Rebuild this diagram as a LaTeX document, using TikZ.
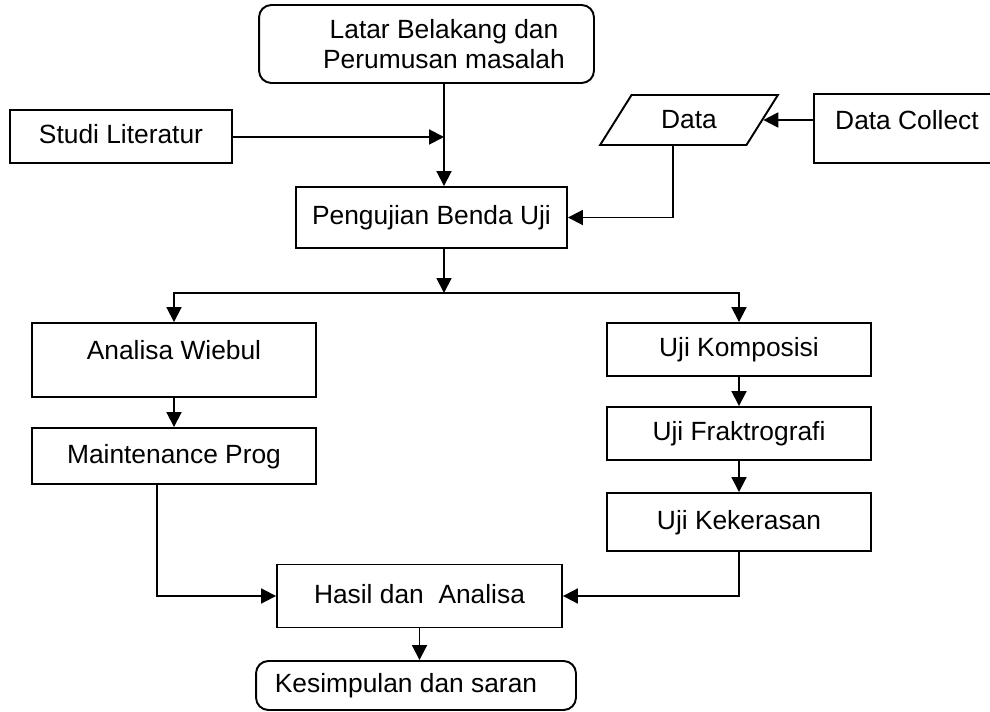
\documentclass[tikz,border=0pt]{standalone}
\usepackage{fontspec}
\setmainfont{Liberation Sans}
\usepackage{tikz}
\usetikzlibrary{arrows.meta, shapes.geometric, positioning}

\begin{document}
\begin{tikzpicture}[x=0.02cm, y=-0.02cm, line width=1.1pt,
    >={Triangle[length=8.5pt, width=8.5pt]},
    box/.style={draw, rectangle, inner sep=2pt, text height=11pt, text depth=3pt,
        font=\fontsize{15}{17}\selectfont},
    roundbox/.style={box, rounded corners=7pt},
    tallbox/.style={box, minimum height=0pt, inner ysep=9.5pt},
    databox/.style={draw, trapezium, trapezium left angle=56, trapezium right angle=124,
        trapezium stretches=true, inner sep=2pt, font=\fontsize{15}{17}\selectfont}]
    \useasboundingbox (0,0) rectangle (990,712);

    % Kotak-kotak
    \node[roundbox, minimum width=6.7cm, minimum height=1.56cm, align=center,
        text height=, text depth=] (latar) at (426.5,44)
        {\hspace*{0.7cm}Latar Belakang dan\\\hspace*{0.7cm}Perumusan masalah};
    \node[box, minimum width=4.44cm, minimum height=1.06cm] (studi) at (121,136.5) {Studi Literatur};
    \node[box, minimum width=5.42cm, minimum height=1.22cm] (uji) at (431.5,217.5) {Pengujian Benda Uji};
    \node[databox, minimum width=3.56cm, minimum height=1cm] (data) at (689,120) {Data};
    \node[tallbox, minimum width=3.72cm, text depth=9.3pt] (collect) at (907,128.5) {Data Collect};

    \node[tallbox, minimum width=5.68cm, text depth=12.1pt] (wiebul) at (174,360) {Analisa Wiebul};
    \node[box, minimum width=5.68cm, minimum height=1.12cm] (maint) at (174,456) {Maintenance Prog};

    \node[box, minimum width=5.28cm, minimum height=1.06cm] (kompo) at (739,349.5) {Uji Komposisi};
    \node[box, minimum width=5.28cm, minimum height=1.06cm] (frakto) at (739,433.5) {Uji Fraktrografi};
    \node[box, minimum width=5.28cm, minimum height=1.16cm] (keras) at (739,522) {Uji Kekerasan};

    \node[box, minimum width=5.7cm, minimum height=1.26cm] (hasil) at (419.5,596) {Hasil dan \ Analisa};
    \node[roundbox, minimum width=6.4cm, minimum height=0.98cm] (simpul) at (416,685.5)
        {Kesimpulan dan saran\hspace*{0.4cm}};

    % Titik bantu
    \coordinate (temu) at (444,137);
    \coordinate (cabang) at (444,293);

    % Panah
    \draw[->] (latar.south -| temu) -- (uji.north -| temu);
    \draw[->] (studi.east |- temu) -- (temu);
    \draw[->] (collect.west |- data.right side) -- (data.right side);
    \draw[->] (data.bottom side) |- (uji.east);

    \draw[->] (uji.south -| cabang) -- (cabang);
    \draw[->] (cabang) -| (wiebul.north);
    \draw[->] (cabang) -| (kompo.north);

    \draw[->] (wiebul) -- (maint);
    \draw[->] (kompo) -- (frakto);
    \draw[->] (frakto) -- (keras);

    \draw[->] ([xshift=-0.34cm]maint.south) |- (hasil.west);
    \draw[->] (keras.south) |- (hasil.east);
    \draw[->] (hasil.south) -- (hasil.south |- simpul.north);
\end{tikzpicture}
\end{document}
